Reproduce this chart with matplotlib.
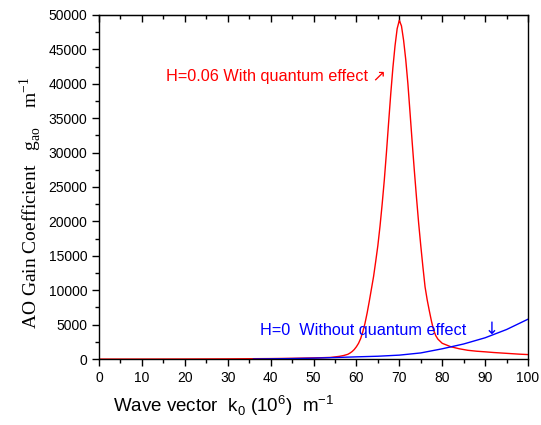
"""AO gain coefficient vs wave vector, with and without quantum effect."""
import matplotlib

matplotlib.use("Agg")
import matplotlib.pyplot as plt  # noqa: E402
from matplotlib.ticker import MultipleLocator  # noqa: E402

plt.rcParams["font.family"] = ["Liberation Sans", "DejaVu Sans"]
plt.rcParams["mathtext.fontset"] = "custom"
plt.rcParams["mathtext.rm"] = "Liberation Sans"

# H=0.06, with quantum effect
k_red = [0, 10, 20, 30, 40, 45, 50, 52, 54, 56, 57, 58, 58.5, 59, 59.5,
         60, 60.5, 61, 61.5, 62, 62.5, 63, 63.5, 64, 64.5, 65, 65.5, 66, 66.5,
         67, 67.5, 68, 68.5, 69, 69.5, 70, 70.5, 71, 71.5, 72, 72.5, 73, 73.5,
         74, 74.5, 75, 75.5, 76, 76.5, 77, 77.5, 78, 78.5, 79, 80, 82, 84, 86,
         88, 90, 92, 94, 96, 98, 100]
g_red = [5, 10, 20, 40, 80, 120, 180, 210, 250, 400, 520, 700, 880, 1100, 1400,
         1800, 2300, 3000, 4000, 5200, 6700, 8400, 10200, 12000, 14200, 16500,
         19300, 22500, 26000, 30000, 34300, 38500, 42300, 45500, 48000, 49200,
         48400, 46300, 43500, 40000, 35800, 31500, 27400, 23500, 19800, 16500,
         13400, 10500, 8600, 7000, 5500, 4200, 3400, 2900, 2300, 1800, 1500,
         1280, 1150, 1060, 960, 880, 800, 720, 660]

# H=0, without quantum effect
k_blue = [36, 40, 45, 50, 55, 60, 65, 70, 75, 80, 85, 90, 95, 100]
g_blue = [10, 40, 80, 140, 230, 330, 420, 580, 900, 1500, 2200, 3100, 4300, 5800]

fig = plt.figure(figsize=(5.41, 4.25), dpi=100)
ax = fig.add_axes([0.183, 0.155, 0.793, 0.81])

ax.plot(k_red, g_red, color="red", lw=1.0)
ax.plot(k_blue, g_blue, color="blue", lw=1.0)

ax.set_xlim(0, 100)
ax.set_ylim(0, 50000)
ax.xaxis.set_major_locator(MultipleLocator(10))
ax.xaxis.set_minor_locator(MultipleLocator(5))
ax.yaxis.set_major_locator(MultipleLocator(5000))
ax.yaxis.set_minor_locator(MultipleLocator(2500))
ax.tick_params(which="both", direction="out", labelsize=10, width=1)
ax.tick_params(which="major", length=5)
ax.tick_params(which="minor", length=3)

top = ax.secondary_xaxis("top")
top.xaxis.set_major_locator(MultipleLocator(10))
top.xaxis.set_minor_locator(MultipleLocator(5))
top.tick_params(which="both", direction="in", labeltop=False, width=1)
top.tick_params(which="major", length=5)
top.tick_params(which="minor", length=3)

for s in ax.spines.values():
    s.set_linewidth(1.0)

ax.text(15.5, 41000, "H=0.06 With quantum effect \u2197", color="red", fontsize=11.7,
        ha="left", va="center")
ax.text(37.5, 4200, "H=0  Without quantum effect", color="blue", fontsize=11.7,
        ha="left", va="center")
ax.text(91.5, 4400, "\u2193", color="blue", fontsize=12, ha="center", va="center",
        family="DejaVu Sans")

ax.set_xlabel(r"Wave vector  k$_\mathregular{0}$ (10$^\mathregular{6}$)  m$^\mathregular{-1}$",
              fontsize=13.5)
ax.xaxis.set_label_coords(0.291, -0.1)
ax.xaxis.label.set_va("top")
ax.set_ylabel(r"AO Gain Coefficient   g$_\mathregular{ao}$    m$^\mathregular{-1}$",
              fontsize=14, family="Liberation Serif")
ax.yaxis.set_label_coords(-0.128, 0.453)

fig.savefig("out.png", dpi=100)
